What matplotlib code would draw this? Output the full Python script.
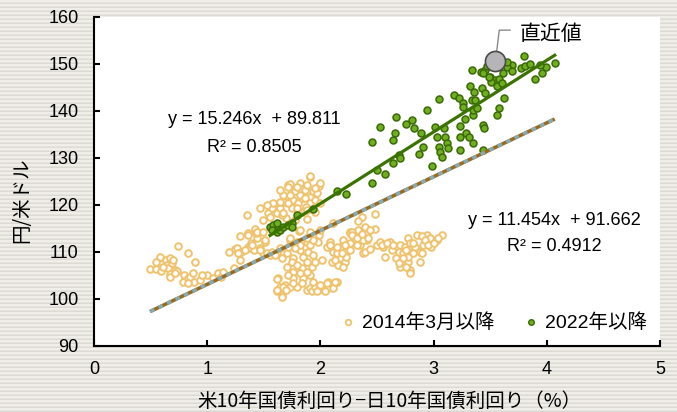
import numpy as np
import matplotlib
matplotlib.use("Agg")
import matplotlib.pyplot as plt
from matplotlib.lines import Line2D

plt.rcParams['font.family'] = ['Liberation Sans', 'Noto Sans CJK JP', 'DejaVu Sans']

# US-JP 10y yield spread (%) vs USD/JPY, weekly observations since March 2014
pts_2014 = [
    (0.495, 106.4), (0.545, 106.4), (0.583, 108.9), (0.59, 107.4), (0.59, 106.0), (0.633, 108.3),
    (0.642, 107.2), (0.656, 106.5), (0.671, 105.3), (0.671, 104.7), (0.671, 108.7), (0.686, 107.6),
    (0.70, 108.3), (0.716, 106.2), (0.73, 106.0), (0.745, 111.3), (0.789, 103.7), (0.798, 105.1),
    (0.833, 104.4), (0.827, 109.7), (0.848, 104.7), (0.877, 105.5), (0.886, 103.7), (0.892, 107.8),
    (0.936, 104.0), (0.995, 105.1), (1.054, 104.4), (1.098, 105.5), (1.122, 104.7), (1.195, 110.1),
    (1.24, 106.7), (1.245, 110.6), (1.26, 110.8), (1.29, 108.3), (1.29, 113.3), (1.30, 110.1),
    (1.363, 111.1), (1.363, 114.0), (1.378, 110.9), (1.39, 111.9), (1.41, 110.4), (1.466, 110.8),
    (1.496, 109.7), (1.526, 109.7), (1.555, 109.4), (1.57, 110.1), (1.614, 109.7), (1.466, 110.4),
    (1.51, 112.2), (1.51, 112.6), (1.393, 111.5), (1.437, 112.9),
    (0.545, 107.9), (0.612, 106.9), (0.716, 105.5), (0.833, 103.3), (0.95, 105.1), (1.14, 105.8),
    (1.275, 109.7), (1.334, 110.4),
    (1.349, 117.9), (1.363, 113.6), (1.42, 115.0), (1.43, 114.0), (1.437, 114.3), (1.496, 114.3),
    (1.466, 119.3), (1.54, 118.2), (1.57, 119.3), (1.584, 120.4), (1.614, 118.2), (1.643, 119.3),
    (1.672, 122.1), (1.687, 120.7), (1.716, 124.3), (1.731, 124.5), (1.746, 119.3), (1.761, 121.1),
    (1.776, 123.0), (1.805, 120.4), (1.82, 124.6), (1.835, 121.4), (1.835, 118.6), (1.864, 123.2),
    (1.908, 125.9), (1.908, 121.8), (1.908, 120.4), (1.932, 123.0), (1.952, 121.1), (1.973, 122.5),
    (1.99, 124.0), (1.996, 124.6), (2.0, 120.4), (1.80, 118.5), (1.87, 119.6), (1.95, 118.6),
    (1.70, 117.3), (1.66, 117.8), (1.78, 116.8), (1.88, 117.0),
    (1.643, 123.2), (1.716, 123.9), (1.79, 123.9), (1.88, 124.3), (1.952, 123.6), (1.731, 122.1),
    (1.82, 122.1), (1.864, 121.4), (1.716, 120.4), (1.643, 120.7), (1.79, 119.3), (1.88, 118.9),
    (1.526, 120.0), (1.555, 117.5), (1.496, 116.8), (1.672, 118.2), (1.908, 126.1),
    (1.73, 112.6), (1.79, 111.9), (1.814, 114.5), (1.82, 114.7), (1.88, 112.2), (1.908, 114.2),
    (1.95, 113.6), (1.98, 112.2), (1.99, 113.6), (2.0, 114.7), (2.055, 111.1), (2.085, 112.2),
    (2.085, 111.5), (1.82, 110.4), (1.893, 110.1), (1.761, 108.7), (1.849, 109.0), (1.937, 109.4),
    (2.011, 108.3), (1.702, 109.7), (1.702, 106.9), (1.761, 105.8), (1.835, 106.5), (1.923, 106.9),
    (1.952, 107.9), (1.761, 104.4), (1.849, 104.4), (1.908, 105.1), (1.628, 104.5), (1.62, 104.3),
    (1.687, 103.0), (1.643, 102.6), (1.614, 101.6), (1.614, 101.9), (1.658, 100.9), (1.658, 100.5),
    (1.67, 102.5), (1.731, 102.6), (1.79, 102.6), (1.835, 103.3), (1.88, 101.9), (1.908, 102.3),
    (1.923, 101.6), (1.952, 102.6), (1.98, 101.9), (2.026, 102.6), (2.07, 102.4), (2.11, 102.3),
    (2.15, 103.6), (2.07, 103.7), (2.13, 103.7), (2.06, 103.3),
    (1.746, 107.9), (1.79, 107.2), (1.88, 107.9), (1.82, 105.5), (1.88, 105.8), (1.716, 105.1),
    (1.761, 103.3), (1.937, 103.7), (2.0, 103.0), (2.04, 101.6), (1.967, 101.6), (1.70, 101.9),
    (1.908, 111.5), (1.937, 112.6), (1.88, 112.9), (1.79, 112.2), (1.73, 112.9), (1.82, 111.5),
    (1.776, 110.8), (1.716, 111.1), (1.658, 108.7), (1.643, 110.8), (1.60, 109.4),
    (2.1, 107.9), (2.114, 110.1), (2.144, 110.8), (2.173, 108.7), (2.173, 107.2), (2.2, 111.5),
    (2.217, 109.7), (2.247, 110.8), (2.26, 114.3), (2.32, 113.6), (2.306, 111.9), (2.35, 111.5),
    (2.41, 112.6), (2.38, 109.7), (2.108, 116.1), (2.26, 114.0), (2.335, 114.7), (2.394, 115.4),
    (2.48, 115.0), (2.41, 114.0), (2.2, 112.6), (2.26, 111.9), (2.32, 111.5), (2.38, 112.6),
    (2.42, 112.9), (2.173, 110.8), (2.144, 109.7), (2.217, 110.1), (2.217, 107.9), (2.158, 107.2),
    (2.2, 106.9), (2.39, 109.9), (2.44, 110.6), (2.5, 111.5), (2.53, 112.2), (2.556, 111.1),
    (2.57, 109.0), (2.615, 112.2), (2.66, 110.8), (2.7, 111.5), (2.69, 110.1), (2.73, 109.7),
    (2.747, 111.1), (2.777, 112.9), (2.79, 111.9), (2.806, 110.1), (2.836, 111.1), (2.85, 113.6),
    (2.88, 110.1), (2.91, 111.5), (2.94, 113.6), (2.97, 112.9), (2.98, 111.1), (3.03, 112.6),
    (3.07, 113.6), (2.67, 108.7), (2.72, 107.9), (2.7, 106.9), (2.777, 107.9), (2.79, 106.2),
    (2.79, 105.5), (2.88, 107.9), (2.365, 117.5), (2.48, 118.0), (2.33, 116.6), (2.28, 114.3),
    (2.276, 113.6), (2.32, 112.9), (2.365, 113.8), (2.44, 114.7), (2.217, 111.5), (2.26, 110.4),
    (2.144, 111.1), (2.13, 108.3), (2.23, 109.0), (2.19, 109.7), (2.54, 111.5), (2.585, 111.9),
    (2.63, 110.4), (2.644, 111.5), (2.76, 110.4), (2.82, 111.9), (2.895, 113.3), (2.92, 112.6),
    (2.953, 111.5), (3.0, 111.9), (3.04, 112.9), (2.895, 109.7), (2.82, 109.7), (2.777, 109.0),
    (2.733, 108.7), (2.76, 106.9), (2.69, 107.6),
]

# observations since 2022
pts_2022 = [
    (1.555, 115.4), (1.584, 115.7), (1.614, 116.1), (1.57, 114.7), (1.614, 114.3), (1.643, 114.7),
    (1.672, 115.4), (1.716, 115.7), (1.746, 116.1), (1.79, 117.9), (1.746, 115.4), (1.937, 119.1),
    (2.144, 122.9), (2.226, 122.3),
    (2.46, 124.7), (2.5, 127.4), (2.57, 126.7), (2.64, 128.9), (2.46, 133.4), (2.53, 136.5),
    (2.64, 133.8), (2.66, 135.3), (2.67, 138.8), (2.69, 130.6), (2.70, 129.9), (2.76, 137.2),
    (2.81, 138.1), (2.83, 136.3), (2.87, 130.9), (2.89, 135.3), (2.91, 132.4), (2.94, 140.3),
    (2.99, 128.3), (3.01, 136.5), (3.03, 134.5), (3.05, 142.6), (3.05, 132.4), (3.06, 131.3),
    (3.07, 130.3), (3.09, 136.3), (3.10, 134.5), (3.115, 133.1), (3.13, 132.1), (3.18, 143.4),
    (3.22, 142.7), (3.23, 136.8), (3.23, 134.5), (3.23, 131.6), (3.26, 141.6), (3.26, 140.9),
    (3.28, 138.4), (3.29, 135.4), (3.31, 134.5), (3.32, 145.3), (3.34, 142.3), (3.34, 148.7),
    (3.345, 139.1), (3.35, 140.2), (3.35, 133.1), (3.37, 142.3), (3.38, 140.6), (3.415, 148.4),
    (3.43, 144.8), (3.44, 137.0), (3.445, 136.3), (3.44, 131.7), (3.45, 148.7), (3.47, 149.6),
    (3.50, 147.3), (3.54, 146.6), (3.56, 145.3), (3.58, 146.9), (3.61, 148.0), (3.625, 142.7),
    (3.58, 140.6), (3.56, 139.1), (3.69, 149.8), (3.645, 149.4), (3.69, 148.6), (3.77, 149.1),
    (3.80, 151.7), (3.81, 149.6), (3.85, 150.0), (3.90, 146.8), (3.955, 148.0), (3.99, 149.4),
    (4.07, 150.3), (3.36, 144.1), (3.45, 143.8), (3.51, 146.2), (3.60, 145.9), (3.49, 147.2),
    (3.44, 148.0), (3.65, 150.5), (3.94, 149.8),
]

# most recent observation
latest_x = 3.54
latest_y = 150.6

# linear trendlines: slope, intercept, R^2
fit_2014 = (11.454, 91.662, 0.4912)
fit_2022 = (15.246, 89.811, 0.8505)

x_ticks = [0, 1, 2, 3, 4, 5]
y_ticks = [90, 100, 110, 120, 130, 140, 150, 160]

series_labels = ['2014年3月以降', '2022年以降']
x_label = '米10年国債利回り−日10年国債利回り（%）'
y_label = '円/米ドル'
latest_label = '直近値'

x14, y14 = np.array(pts_2014).T
x22, y22 = np.array(pts_2022).T

ORANGE = '#efc36e'
GREEN_FACE = '#6fae1f'
GREEN_EDGE = '#3a6a06'
GREEN_LINE = '#3b7300'
CJK = ['Noto Sans CJK JP', 'DejaVu Sans']

fig = plt.figure(figsize=(6.77, 4.12), dpi=100)

# striped paper background
bg = fig.add_axes([0, 0, 1, 1], zorder=-10)
pattern = np.array([[0.94, 0.935, 0.915], [0.94, 0.935, 0.915],
                    [0.90, 0.893, 0.87], [0.865, 0.857, 0.83]])
rows = np.vstack([pattern] * 103)[:412]
bg.imshow(rows[:, None, :], aspect='auto', extent=[0, 1, 0, 1], interpolation='nearest')
bg.set_axis_off()

ax = fig.add_axes([94 / 677, 1 - 346 / 412, 566 / 677, 329 / 412])
ax.set_facecolor('white')

ax.scatter(x14, y14, s=23, facecolors='white', edgecolors=ORANGE, linewidths=1.4, zorder=2)
ax.scatter(x22, y22, s=25, facecolors=GREEN_FACE, edgecolors=GREEN_EDGE, linewidths=1.1, zorder=3)

# trendline over the full span of each sample (the 2014 sample includes 2022 onward)
all_x = np.concatenate([x14, x22])
xr14 = np.array([all_x.min(), all_x.max()])
xr22 = np.array([x22.min(), x22.max()])
ax.plot(xr14, fit_2014[0] * xr14 + fit_2014[1], color='#9a6b1f', lw=2.6,
        solid_capstyle='butt', zorder=4)
ax.plot(xr14, fit_2014[0] * xr14 + fit_2014[1], color='#86aab2', lw=2.6,
        dashes=(1.3, 1.3), zorder=4)
ax.plot(xr22, fit_2022[0] * xr22 + fit_2022[1], color=GREEN_LINE, lw=2.3, zorder=5)

# latest value marker with leader line
ax.plot([latest_x + 0.017, latest_x + 0.04, latest_x + 0.135],
        [latest_y + 2.0, 157.2, 157.2], color='#8a8a8a', lw=1.0, zorder=6)
ax.plot([latest_x], [latest_y], 'o', ms=14.5, mfc='#b5b5b7', mec='#4a4a4a', mew=1.2, zorder=7)
ax.text(3.76, 156.4, latest_label, fontsize=15, family=CJK, ha='left', va='center', zorder=8)

# equation annotations
ax.text(1.413, 138.1, f'y = {fit_2022[0]:.3f}x  + {fit_2022[1]:.3f}', fontsize=13,
        ha='center', va='center')
ax.text(1.413, 132.3, f'R² = {fit_2022[2]:.4f}', fontsize=13, ha='center', va='center')
ax.text(4.07, 116.8, f'y = {fit_2014[0]:.3f}x  + {fit_2014[1]:.3f}', fontsize=13,
        ha='center', va='center')
ax.text(4.07, 111.1, f'R² = {fit_2014[2]:.4f}', fontsize=13, ha='center', va='center')

ax.set_xlim(x_ticks[0], x_ticks[-1])
ax.set_ylim(y_ticks[0], y_ticks[-1])
ax.set_xticks(x_ticks)
ax.set_yticks(y_ticks)
for s in ('top', 'right'):
    ax.spines[s].set_visible(False)
for s in ('left', 'bottom'):
    ax.spines[s].set_linewidth(1.5)
    ax.spines[s].set_color('black')
ax.tick_params(direction='in', length=4.5, width=1.5, labelsize=13)
ax.tick_params(axis='y', pad=11)
ax.tick_params(axis='x', pad=11)

handles = [
    Line2D([], [], ls='none', marker='o', ms=4, mfc='white', mec=ORANGE, mew=1.3),
    Line2D([], [], ls='none', marker='o', ms=4, mfc=GREEN_FACE, mec=GREEN_EDGE, mew=1.0),
]
ax.legend(handles, series_labels, loc='center right', bbox_to_anchor=(0.99, 0.07),
          ncol=2, frameon=False, fontsize=14, handlelength=0.6, handletextpad=0.4,
          columnspacing=1.6, borderaxespad=0)

fig.text(389 / 677, 1 - 401 / 412, x_label, fontsize=14, family=CJK, ha='center', va='center')
fig.text(22 / 677, 1 - 200 / 412, y_label, fontsize=14, family=CJK, ha='center', va='center',
         rotation=90)

fig.savefig('out.png', dpi=100)
